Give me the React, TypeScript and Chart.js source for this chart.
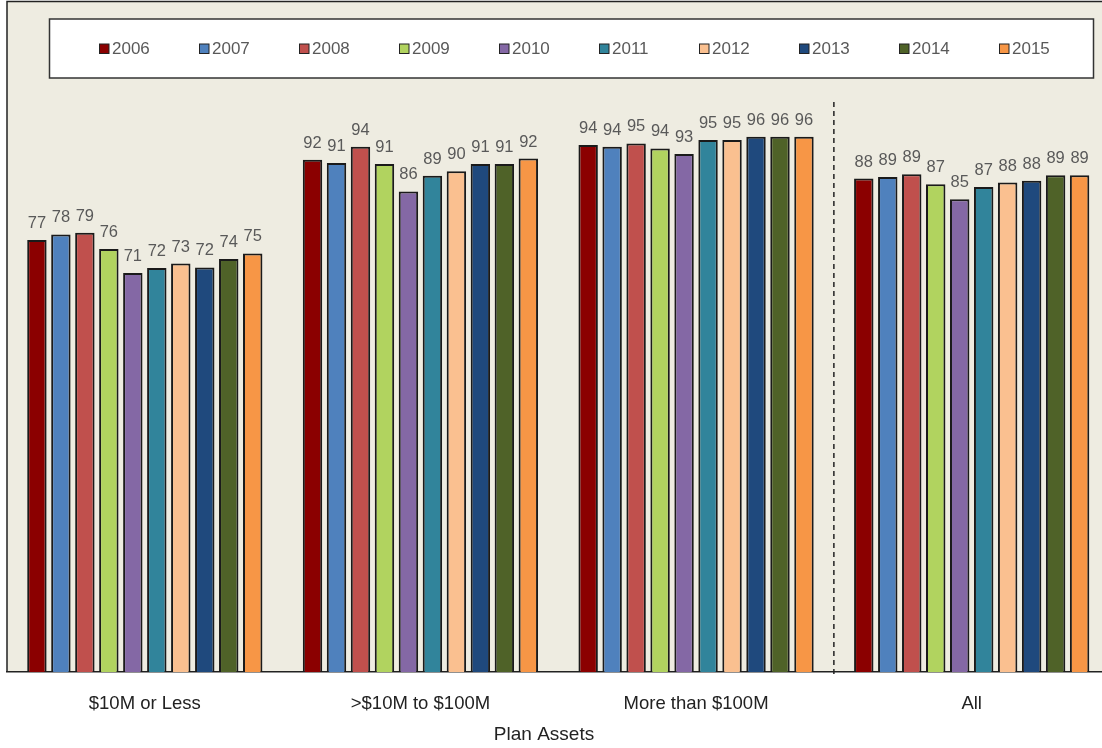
import { useEffect, useRef } from "react";
import { Chart, registerables } from "chart.js";

Chart.register(...registerables);

const categories = ["$10M or Less", ">$10M to $100M", "More than $100M", "All"];
const years = ["2006", "2007", "2008", "2009", "2010", "2011", "2012", "2013", "2014", "2015"];
const yearColors = ["#8B0000", "#4F81BD", "#C0504D", "#B1D35F", "#8468A5", "#31849B", "#FAC090", "#1F497D", "#4F6228", "#F79646"];

const v2006 = [77.3, 91.7, 94.3, 88.3];
const v2007 = [78.3, 91.1, 94.0, 88.6];
const v2008 = [78.6, 94.0, 94.6, 89.1];
const v2009 = [75.7, 90.9, 93.7, 87.3];
const v2010 = [71.4, 86.0, 92.7, 84.6];
const v2011 = [72.3, 88.8, 95.2, 86.8];
const v2012 = [73.1, 89.6, 95.2, 87.6];
const v2013 = [72.4, 90.9, 95.8, 87.9];
const v2014 = [73.9, 90.9, 95.8, 88.9];
const v2015 = [74.9, 91.9, 95.8, 88.9];
const seriesValues = [v2006, v2007, v2008, v2009, v2010, v2011, v2012, v2013, v2014, v2015];

const xTitle = "Plan Assets";
const FONT = '"Liberation Sans", Arial, sans-serif';

const backgroundPlugin = {
  id: "bgPlugin",
  beforeDraw(chart: any) {
    const { ctx, chartArea } = chart;
    ctx.save();
    ctx.fillStyle = "#ffffff";
    ctx.fillRect(0, 0, chart.width, chart.height);
    ctx.fillStyle = "#EEECE1";
    ctx.fillRect(chartArea.left, chartArea.top, chartArea.right - chartArea.left, chartArea.bottom - chartArea.top);
    ctx.strokeStyle = "#222";
    ctx.lineWidth = 1.5;
    ctx.beginPath();
    ctx.moveTo(chartArea.left, chartArea.bottom);
    ctx.lineTo(chartArea.left, chartArea.top);
    ctx.lineTo(chartArea.right, chartArea.top);
    ctx.stroke();
    ctx.restore();
  },
};

const overlayPlugin = {
  id: "overlayPlugin",
  afterDatasetsDraw(chart: any) {
    const { ctx, chartArea } = chart;
    const xs = chart.scales.x;
    const ys = chart.scales.y;
    ctx.save();
    // data labels
    ctx.font = `16.5px ${FONT}`;
    ctx.fillStyle = "#595959";
    ctx.textAlign = "center";
    ctx.textBaseline = "alphabetic";
    chart.data.datasets.forEach((ds: any, di: number) => {
      const meta = chart.getDatasetMeta(di);
      meta.data.forEach((el: any, i: number) => {
        ctx.fillText(String(Math.round(ds.data[i])), el.x, el.y - 12);
      });
    });
    // dashed separator before "All"
    const sx = xs.getPixelForValue(2.5);
    ctx.strokeStyle = "#222";
    ctx.lineWidth = 1.5;
    ctx.setLineDash([5, 4]);
    ctx.beginPath();
    ctx.moveTo(sx, ys.getPixelForValue(102));
    ctx.lineTo(sx, chartArea.bottom + 5);
    ctx.stroke();
    ctx.setLineDash([]);
    // legend box
    const lx = 49.5, ly = 19, lw = 1044, lh = 59;
    ctx.fillStyle = "#ffffff";
    ctx.fillRect(lx, ly, lw, lh);
    ctx.strokeStyle = "#333";
    ctx.lineWidth = 1.5;
    ctx.strokeRect(lx, ly, lw, lh);
    ctx.font = `17px ${FONT}`;
    ctx.textAlign = "left";
    chart.data.datasets.forEach((ds: any, di: number) => {
      const mx = 99.5 + di * 100;
      ctx.fillStyle = ds.backgroundColor;
      ctx.fillRect(mx, 44, 9.5, 9.5);
      ctx.strokeStyle = "#222";
      ctx.lineWidth = 1;
      ctx.strokeRect(mx, 44, 9.5, 9.5);
      ctx.fillStyle = "#595959";
      ctx.fillText(ds.label, mx + 12.5, 54);
    });
    // x axis title
    ctx.font = `19px ${FONT}`;
    ctx.fillStyle = "#222";
    ctx.textAlign = "center";
    ctx.textBaseline = "middle";
    ctx.fillText(xTitle, 544, 735);
    ctx.restore();
  },
};

export default function App() {
  const canvasRef = useRef<HTMLCanvasElement | null>(null);

  useEffect(() => {
    if (!canvasRef.current) return;
    const chart = new Chart(canvasRef.current, {
      type: "bar",
      data: {
        labels: categories,
        datasets: years.map((y, i) => ({
          label: y,
          data: seriesValues[i],
          backgroundColor: yearColors[i],
          borderColor: "#1a1a1a",
          borderWidth: 2,
          categoryPercentage: 0.87,
          barPercentage: 0.81,
        })),
      },
      options: {
        animation: false,
        responsive: true,
        maintainAspectRatio: false,
        layout: { padding: { left: 7, top: 1.5, right: 10.5, bottom: 0 } },
        plugins: {
          legend: { display: false },
          tooltip: { enabled: false },
        },
        scales: {
          x: {
            grid: { display: false },
            border: { display: true, color: "#222", width: 1.5 },
            ticks: { color: "#222", font: { size: 18.5, family: FONT }, padding: 12.5, maxRotation: 0 },
            afterFit: (scale: any) => {
              scale.height = 76;
            },
          },
          y: {
            display: false,
            min: 0,
            max: 120,
          },
        },
      },
      plugins: [backgroundPlugin, overlayPlugin],
    });
    return () => chart.destroy();
  }, []);

  return (
    <div style={{ position: "absolute", left: 0, top: 0, width: 1102, height: 748, overflow: "hidden", background: "#fff" }}>
      <div style={{ position: "relative", width: 1120, height: 748 }}>
        <canvas ref={canvasRef} />
      </div>
    </div>
  );
}
